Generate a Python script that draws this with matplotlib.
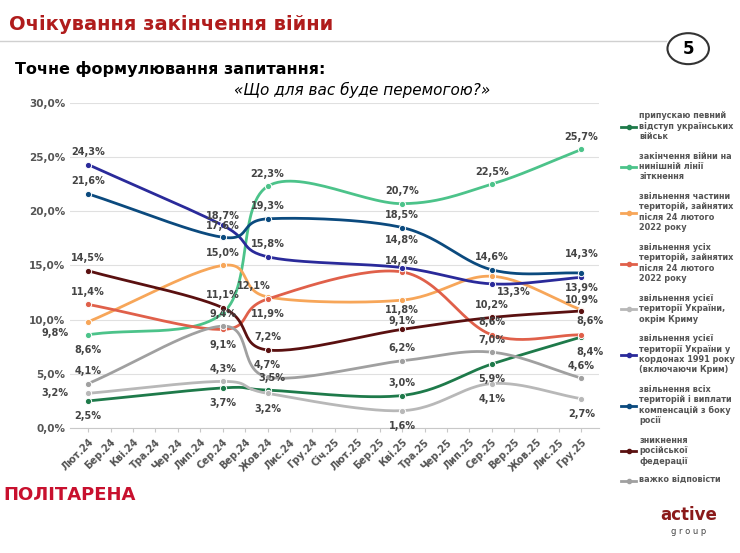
import numpy as np
import matplotlib
matplotlib.use("Agg")
import matplotlib.pyplot as plt
from matplotlib.patches import Circle

months = ["Лют.24","Бер.24","Кві.24","Тра.24","Чер.24","Лип.24","Сер.24","Вер.24","Жов.24","Лис.24","Гру.24","Січ.25",
          "Лют.25","Бер.25","Кві.25","Тра.25","Чер.25","Лип.25","Сер.25","Вер.25","Жов.25","Лис.25","Гру.25"]
wave_idx = [0, 6, 8, 14, 18, 22]

names = ["припускаю певний\nвідступ українських\nвійськ",
         "закінчення війни на\nнинішній лінії\nзіткнення",
         "звільнення частини\nтериторій, зайнятих\nпісля 24 лютого\n2022 року",
         "звільнення усіх\nтериторій, зайнятих\nпісля 24 лютого\n2022 року",
         "звільнення усієї\nтериторії України,\nокрім Криму",
         "звільнення усієї\nтериторії України у\nкордонах 1991 року\n(включаючи Крим)",
         "звільнення всіх\nтериторій і виплати\nкомпенсацій з боку\nросії",
         "зникнення\nросійської\nфедерації",
         "важко відповісти"]
retreat    = [2.5, 3.7, 3.5, 3.0, 5.9, 8.4]
freeze     = [8.6, 10.6, 22.3, 20.7, 22.5, 25.7]
part       = [9.8, 15.0, 12.1, 11.8, 14.0, 10.9]
all_after  = [11.4, 9.1, 11.9, 14.4, 8.6, 8.6]
no_crimea  = [3.2, 4.3, 3.2, 1.6, 4.1, 2.7]
b1991      = [24.3, 18.7, 15.8, 14.8, 13.3, 13.9]
compens    = [21.6, 17.6, 19.3, 18.5, 14.6, 14.3]
collapse   = [14.5, 11.1, 7.2, 9.1, 10.2, 10.8]
hard       = [4.1, 9.4, 4.7, 6.2, 7.0, 4.6]
series = [retreat, freeze, part, all_after, no_crimea, b1991, compens, collapse, hard]
colors = ["#1e7a4a", "#4cc38a", "#f7a659", "#e0604a", "#b8b8b8", "#2a2a9a", "#0b4a7e", "#5a1010", "#a0a0a0"]

offs = [
 [(0,-11),(0,-11),(3,9),(0,9),(0,-11),(6,-11)],
 [(0,-11),None,(0,9),(0,9),(0,9),(0,9)],
 [(-24,-8),(0,9),(-10,8),(0,-7),None,(0,7)],
 [(0,9),(0,-11),(0,-11),(0,8),(0,9),(6,10)],
 [(-24,0),(0,9),(0,-11),(0,-11),(0,-11),(0,-11)],
 [(0,9),(0,7),(0,9),(0,20),(16,-6),(0,-8)],
 [(0,9),(0,8),(0,9),(0,9),(0,9),(0,14)],
 [(0,9),(0,9),(0,9),(0,6),(0,9),None],
 [(0,9),(0,9),(0,9),(0,9),(0,9),(0,9)],
]

def catmull(x, y, n=30):
    x = np.asarray(x, float); y = np.asarray(y, float)
    px = np.r_[2*x[0]-x[1], x, 2*x[-1]-x[-2]]
    py = np.r_[2*y[0]-y[1], y, 2*y[-1]-y[-2]]
    xs, ys = [], []
    for i in range(1, len(px)-2):
        t = np.linspace(0, 1, n)
        for p, out in ((px, xs), (py, ys)):
            p0, p1, p2, p3 = p[i-1], p[i], p[i+1], p[i+2]
            out.append(0.5*((2*p1) + (-p0+p2)*t + (2*p0-5*p1+4*p2-p3)*t**2 + (-p0+3*p1-3*p2+p3)*t**3))
    return np.concatenate(xs), np.concatenate(ys)

fig = plt.figure(figsize=(7.4, 5.53), dpi=100)
fig.text(0.012, 0.955, "Очікування закінчення війни", color="#b01c1c", fontsize=14, fontweight="bold", va="center")
fig.add_artist(plt.Line2D([0, 0.9], [0.925, 0.925], color="#d0d0d0", lw=1))
fig.add_artist(Circle((0.93, 0.912), 0.028, transform=fig.transFigure, fc="white", ec="#333333", lw=1.5))
fig.text(0.93, 0.912, "5", fontsize=12, fontweight="bold", ha="center", va="center")
fig.text(0.02, 0.875, "Точне формулювання запитання:", fontsize=11.5, fontweight="bold", va="center")
fig.text(0.49, 0.838, "«Що для вас буде перемогою?»", fontsize=11, style="italic", ha="center", va="center")
fig.text(0.005, 0.095, "ПОЛІТАРЕНА", color="#c8102e", fontsize=13, fontweight="bold")
fig.text(0.93, 0.06, "active", color="#8a1a1a", fontsize=12, fontweight="bold", ha="center")
fig.text(0.93, 0.035, "g r o u p", color="#444444", fontsize=6, ha="center")

ax = fig.add_axes([0.095, 0.226, 0.715, 0.588])
ax.set_ylim(0, 30)
ax.set_xlim(-0.8, 22.8)
ax.set_yticks(np.arange(0, 31, 5))
ax.set_yticklabels([f"{v:.1f}%".replace(".", ",") for v in np.arange(0, 31, 5)], fontsize=7.5, color="#555555", fontweight="bold")
ax.yaxis.grid(True, color="#e0e0e0", lw=0.8)
ax.set_axisbelow(True)
ax.set_xticks(range(len(months)))
ax.set_xticklabels(months, rotation=45, ha="right", rotation_mode="anchor", fontsize=7, color="#555555", fontweight="bold")
for s in ["top", "right", "left"]:
    ax.spines[s].set_visible(False)
ax.spines["bottom"].set_color("#c8c8c8")
ax.tick_params(axis="y", length=0)
ax.tick_params(axis="x", length=3, color="#c8c8c8")

handles = []
for vals, c, nm, of in zip(series, colors, names, offs):
    sx, sy = catmull(wave_idx, vals)
    ax.plot(sx, sy, color=c, lw=2)
    ax.plot(wave_idx, vals, "o", color=c, ms=4.5, mec="white", mew=0.7)
    handles.append(plt.Line2D([], [], color=c, lw=2, marker="o", ms=3))
    for xi, v, o in zip(wave_idx, vals, of):
        if o is None:
            continue
        ax.annotate(f"{v:.1f}%".replace(".", ","), (xi, v), xytext=o, textcoords="offset points",
                    ha="center", va="center", fontsize=7, color="#444444", fontweight="bold")

leg = fig.legend(handles, names, loc="upper left", bbox_to_anchor=(0.835, 0.805), frameon=False,
                 fontsize=5.9, handlelength=1.8, handletextpad=0.4, labelspacing=1.3, borderaxespad=0)
for t in leg.get_texts():
    t.set_color("#555555"); t.set_fontweight("bold")

fig.savefig("out.png", dpi=100)
